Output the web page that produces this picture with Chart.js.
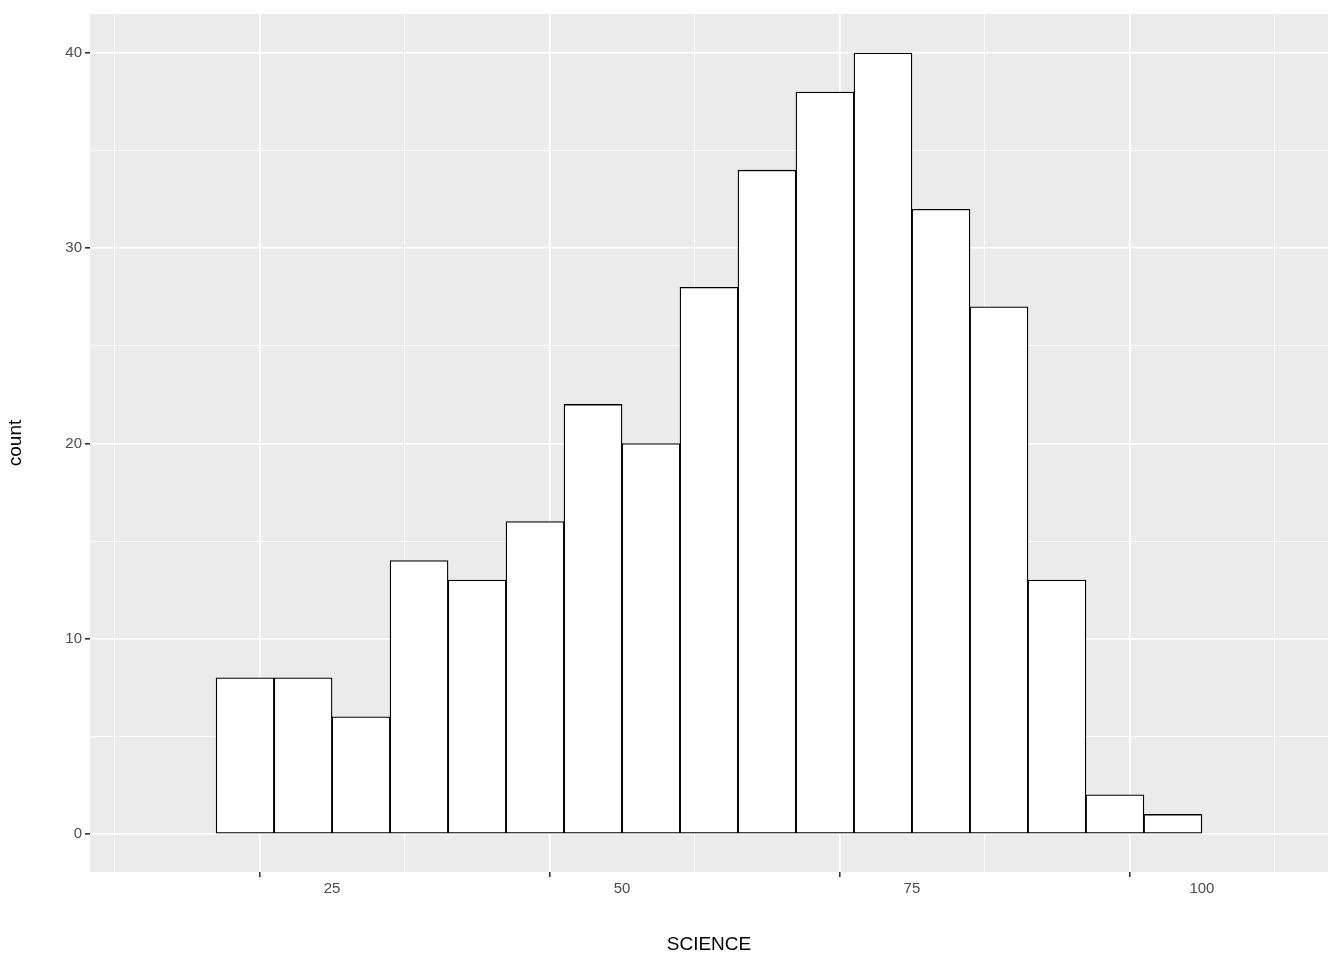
<!DOCTYPE html>
<html>
<head>
<script src="https://cdn.jsdelivr.net/npm/chart.js@4"></script>
<style>
  body { margin: 0; background: white; }
  #wrap { width: 1344px; height: 960px; }
</style>
</head>
<body>
<div id="wrap"><canvas id="hist"></canvas></div>
<script>
// histogram bins of width 5, lower edges from 15 to 95
const binStarts = [15, 20, 25, 30, 35, 40, 45, 50, 55, 60, 65, 70, 75, 80, 85, 90, 95];
const counts = [8, 8, 6, 14, 13, 16, 22, 20, 28, 34, 38, 40, 32, 27, 13, 2, 1];
const binWidth = 5;
const xTicks = [25, 50, 75, 100];
const yTicks = [0, 10, 20, 30, 40];

const panelBg = {
    id: 'panelBg',
    beforeDraw(chart) {
        const { ctx, chartArea: a } = chart;
        ctx.save();
        ctx.fillStyle = '#ebebeb';
        ctx.fillRect(a.left, a.top, a.right - a.left, a.bottom - a.top);
        ctx.restore();
    }
};

const isMajor = (v, list) => list.some(t => Math.abs(t - v) < 1e-6);
const tickVal = c => (c.tick ? c.tick.value : NaN);

new Chart(document.getElementById('hist'), {
    type: 'bar',
    data: {
        datasets: [{
            data: binStarts.map((s, i) => ({ x: s + binWidth / 2, y: counts[i] })),
            backgroundColor: '#ffffff',
            borderColor: '#000000',
            borderWidth: 1.3,
            borderSkipped: false,
            barPercentage: 1,
            categoryPercentage: 1
        }]
    },
    options: {
        responsive: true,
        maintainAspectRatio: false,
        animation: false,
        layout: { padding: { left: 0, top: 14, right: 16, bottom: 0 } },
        plugins: { legend: { display: false }, tooltip: { enabled: false } },
        scales: {
            x: {
                type: 'linear',
                min: 10.8, max: 104.2,
                afterBuildTicks: s => { s.ticks = [12.5, 25, 37.5, 50, 62.5, 75, 87.5, 100].map(v => ({ value: v })); },
                afterFit: s => { s.height = 88; },
                border: { display: false },
                grid: {
                    color: '#ffffff',
                    lineWidth: c => isMajor(tickVal(c), xTicks) ? 1.6 : 0.8,
                    tickColor: c => isMajor(tickVal(c), xTicks) ? '#333333' : 'rgba(0,0,0,0)',
                    tickLength: 5
                },
                ticks: {
                    autoSkip: false, maxRotation: 0,
                    color: '#4d4d4d',
                    font: { family: 'Liberation Sans, Arial', size: 15 },
                    callback: v => isMajor(v, xTicks) ? v : ''
                },
                title: {
                    display: true, text: 'SCIENCE', color: '#000',
                    font: { family: 'Liberation Sans, Arial', size: 19 },
                    padding: { top: 2 }
                }
            },
            y: {
                min: -1.95, max: 42,
                afterBuildTicks: s => { s.ticks = [0, 5, 10, 15, 20, 25, 30, 35, 40].map(v => ({ value: v })); },
                afterFit: s => { s.width = 90; },
                border: { display: false },
                grid: {
                    color: '#ffffff',
                    lineWidth: c => isMajor(tickVal(c), yTicks) ? 1.6 : 0.8,
                    tickColor: c => isMajor(tickVal(c), yTicks) ? '#333333' : 'rgba(0,0,0,0)',
                    tickLength: 5
                },
                ticks: {
                    autoSkip: false,
                    color: '#4d4d4d',
                    font: { family: 'Liberation Sans, Arial', size: 15 },
                    callback: v => isMajor(v, yTicks) ? v : ''
                },
                title: {
                    display: true, text: 'count', color: '#000',
                    font: { family: 'Liberation Sans, Arial', size: 19 }
                }
            }
        }
    },
    plugins: [panelBg]
});
</script>
</body>
</html>
